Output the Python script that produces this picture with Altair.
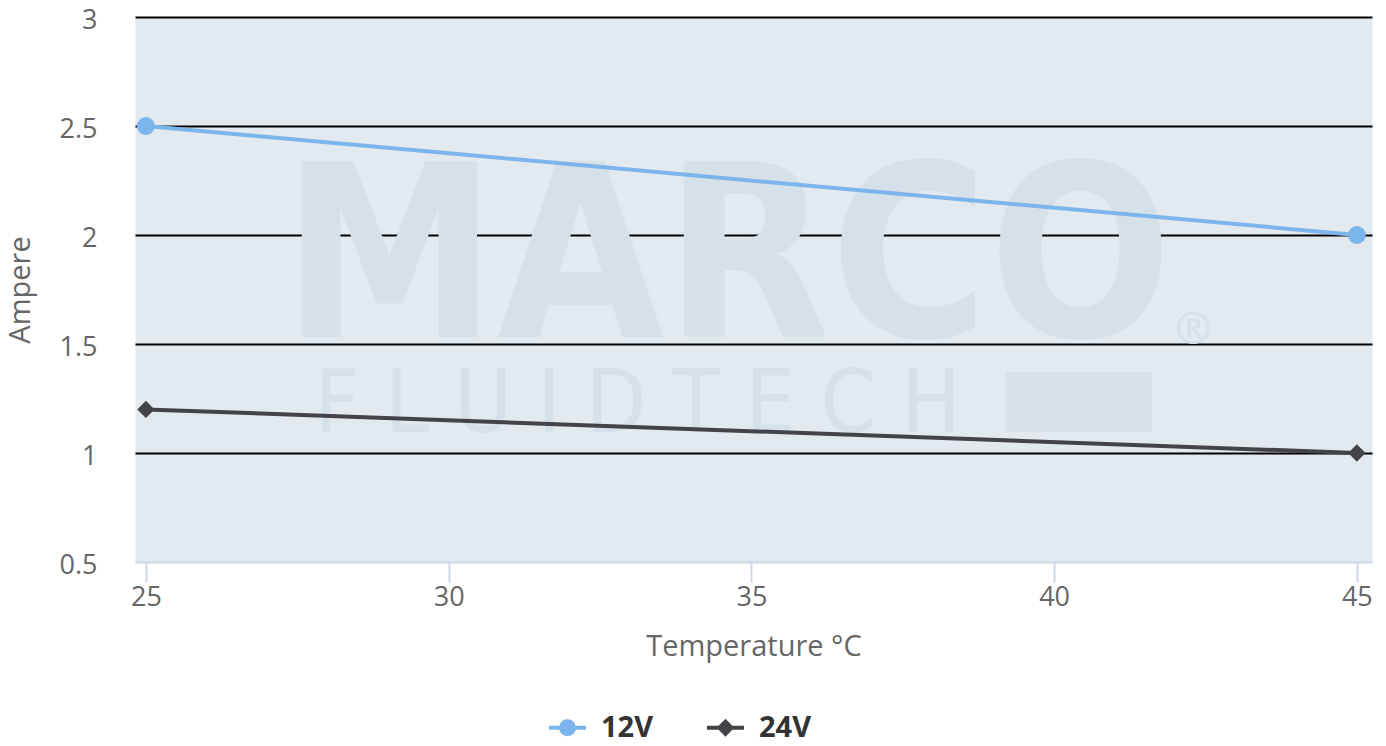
import altair as alt
import pandas as pd

# ---- data ----
temps = [25, 45]
amp_12v = [2.5, 2.0]
amp_24v = [1.2, 1.0]
series_names = ["12V", "24V"]
series_colors = ["#7cb5ec", "#434348"]
x_ticks = [25, 30, 35, 40, 45]
y_ticks = [0.5, 1, 1.5, 2, 2.5, 3]

rows = []
for t, a in zip(temps, amp_12v):
    rows.append({"temp": t, "amp": a, "series": "12V"})
for t, a in zip(temps, amp_24v):
    rows.append({"temp": t, "amp": a, "series": "24V"})
df = pd.DataFrame(rows)
one = pd.DataFrame({"k": [0]})

FONT = "Open Sans"
WM = "#d5e0e8"

x_scale = alt.Scale(domain=[24.82, 45.25], nice=False, zero=False)
y_scale = alt.Scale(domain=[0.5, 3], nice=False, zero=False)
color_scale = alt.Scale(domain=series_names, range=series_colors)

x_axis = alt.Axis(values=x_ticks, title="Temperature °C", grid=False, format="~g",
                  tickSize=20, tickColor="#ccd6eb", tickWidth=2,
                  domainColor="#ccd6eb", domainWidth=2,
                  labelFontSize=27, labelColor="#666666", labelPadding=2,
                  labelFlush=False,
                  titleFontSize=29, titleColor="#666666", titleFontWeight="normal",
                  titlePadding=22)
y_axis = alt.Axis(values=y_ticks, title="Ampere", grid=True, format="~g",
                  gridColor={"condition": {"test": "datum.value <= 0.5", "value": "transparent"},
                             "value": "#000000"},
                  gridWidth=2, ticks=False, domain=False,
                  labelFontSize=27, labelColor="#666666", labelPadding=38, labelOffset=3,
                  labelFlush=False,
                  titleFontSize=29, titleColor="#666666", titleFontWeight="normal",
                  titlePadding=24)

X = alt.X("temp:Q", scale=x_scale, axis=x_axis)
Y = alt.Y("amp:Q", scale=y_scale, axis=y_axis)

# watermark (logo) layers
wm_marco = alt.Chart(one).mark_text(
    text="MARCO", font="DejaVu Sans Condensed", fontWeight="bold", fontSize=240,
    color=WM, align="center", baseline="alphabetic"
).encode(x=alt.datum(34.6), y=alt.datum(1.53))
wm_reg = alt.Chart(one).mark_text(
    text="®", font=FONT, fontSize=44, color=WM, align="center", baseline="alphabetic"
).encode(x=alt.datum(42.3), y=alt.datum(1.5))
wm_fluid = alt.Chart(one).mark_text(
    text="F  L  U  I  D    T  E  C  H", font="DejaVu Sans Condensed", fontWeight=300,
    fontSize=88, color=WM, align="left", baseline="alphabetic"
).encode(x=alt.datum(27.78), y=alt.datum(1.096))
wm_block = alt.Chart(one).mark_rect(color=WM).encode(
    x=alt.datum(39.2), x2=alt.datum(41.62), y=alt.datum(1.372), y2=alt.datum(1.096))

lines = alt.Chart(df).mark_line(strokeWidth=4).encode(
    x=X, y=Y,
    color=alt.Color("series:N", scale=color_scale, legend=None),
    detail="series:N")

pts12 = alt.Chart(df).transform_filter("datum.series == '12V'").mark_point(
    shape="circle", filled=True, size=324, opacity=1
).encode(x=X, y=Y, color=alt.Color("series:N", scale=color_scale, legend=None))

pts24 = alt.Chart(df).transform_filter("datum.series == '24V'").mark_point(
    shape="diamond", filled=True, size=300, opacity=1
).encode(x=X, y=Y, color=alt.Color("series:N", scale=color_scale, legend=None))


def rings(r_list):
    return "".join(f"M{r},0A{r},{r},0,1,1,-{r},0A{r},{r},0,1,1,{r},0Z" for r in r_list)


def diamonds(r_list):
    return "".join(f"M0,-{r}L{r},0L0,{r}L-{r},0Z" for r in r_list)


legend_paths = [
    "M-1,0H1" + rings([0.35, 0.25, 0.15, 0.05]),
    "M-1,0H1" + diamonds([0.33, 0.23, 0.13, 0.03]),
]
legend = alt.Legend(
    title=None, orient="none", legendX=412, legendY=690, direction="horizontal",
    labelFont=FONT, labelFontSize=29, labelFontWeight="bold", labelColor="#333333",
    symbolSize=1369, symbolStrokeWidth=4, symbolOpacity=1, labelOffset=13,
    columnPadding=45, padding=0)
# invisible layer that only carries the legend (first, so its legend settings win)
leg_layer = alt.Chart(df).mark_point(filled=False, opacity=0).encode(
    x=X, y=Y,
    color=alt.Color("series:N", scale=color_scale, legend=legend),
    shape=alt.Shape("series:N", scale=alt.Scale(domain=series_names, range=legend_paths),
                    legend=legend),
)

chart = alt.layer(
    leg_layer, wm_marco, wm_reg, wm_fluid, wm_block, lines, pts12, pts24
).properties(
    width=1237, height=545,
    autosize=alt.AutoSizeParams(type="none"),
    padding={"left": 127, "top": 9, "right": 5, "bottom": 176},
).configure(font=FONT).configure_view(fill="#e2e9ef", stroke="transparent")

chart.save("out.html", embed_options={"renderer": "svg", "actions": False})
